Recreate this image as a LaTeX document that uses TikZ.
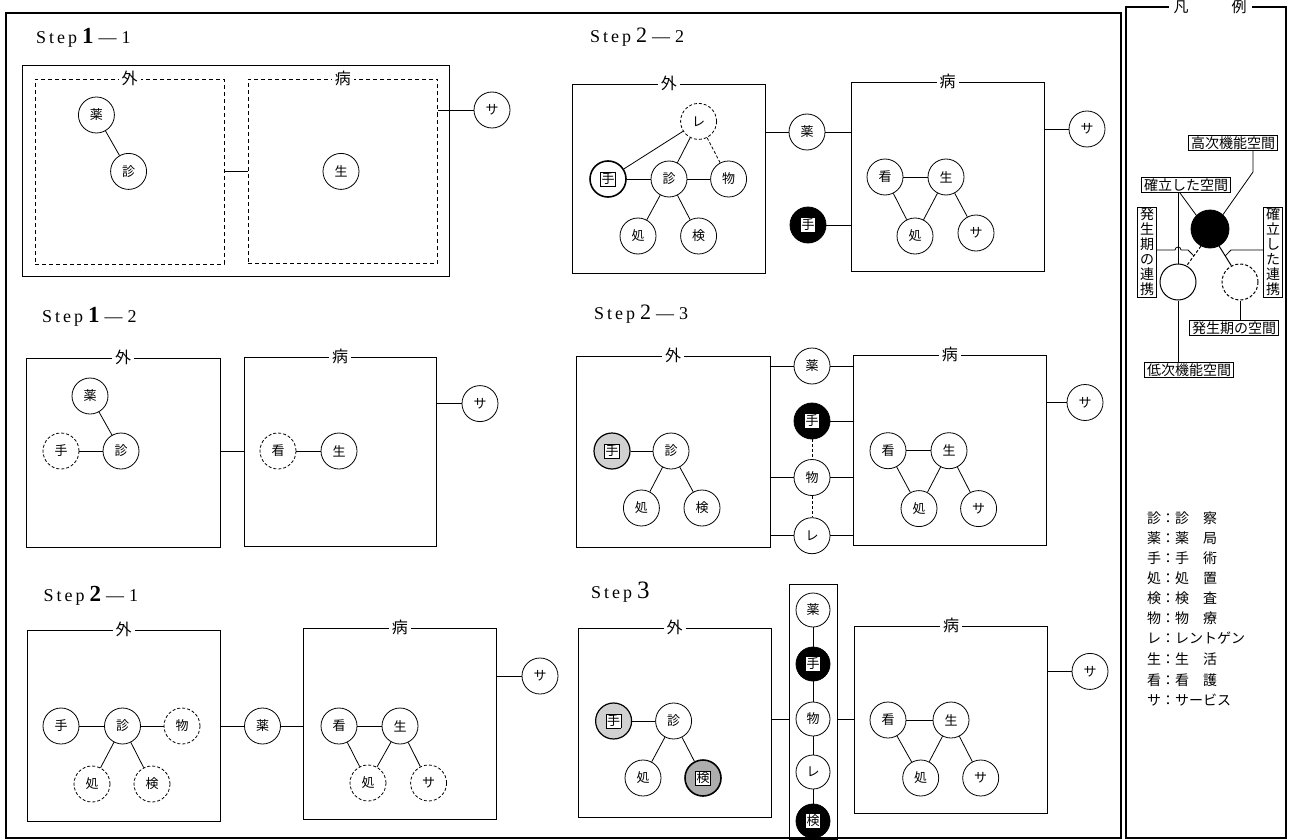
\documentclass[tikz,border=0pt]{standalone}
\usepackage{fontspec}
\setmainfont{Noto Sans CJK JP}
\newfontfamily\stepfont{Liberation Serif}
\usetikzlibrary{calc}
\newcommand\WhiteChar[1]{{\setlength{\fboxsep}{0.6pt}\colorbox{white}{#1}}}
\newcommand\FramedChar[1]{{\setlength{\fboxsep}{0.6pt}\setlength{\fboxrule}{0.6pt}\fcolorbox{black}{white}{#1}}}
\newcommand\StepWord{S\kern3pt t\kern3pt e\kern3pt p}
\newcommand\Zone[7]{%
  \node[#6, minimum width={(#4)-(#2)}, minimum height={(#5)-(#3)}] (#1) at ({((#2)+(#4))/2},{((#3)+(#5))/2}) {};
  \node[ttl] (#1t) at (#1.north) {#7};}
\begin{document}
\begin{tikzpicture}[x=1pt,y=-1pt,
 ln/.style={line width=0.8pt},
 dln/.style={line width=0.8pt,dash pattern=on 3pt off 2pt},
 cir/.style={circle,draw,line width=0.8pt,minimum size=36pt,inner sep=0pt,fill=white,font=\fontsize{13}{13}\selectfont},
 dcir/.style={cir,dash pattern=on 3pt off 2pt},
 bcir/.style={cir,fill=black},
 tcir/.style={cir,line width=1.6pt},
 scir/.style={cir,fill=black!18,line width=1.2pt},
 zone/.style={draw,line width=0.9pt,inner sep=0pt},
 dzone/.style={zone,dash pattern=on 4pt off 3pt},
 ttl/.style={fill=white,inner xsep=3pt,inner ysep=1pt,font=\fontsize{16}{16}\selectfont},
 steptitle/.style={anchor=west,inner sep=0pt,font=\stepfont\fontsize{18}{18}\selectfont},
 lbox/.style={draw,line width=0.7pt,inner xsep=2.5pt,inner ysep=1pt,fill=white,font=\fontsize{14}{14}\selectfont},
 key/.style={anchor=west,inner sep=0pt,font=\fontsize{14}{14}\selectfont}
]
\fill[white] (0,0) rectangle (1295,840);
\useasboundingbox (0,0) rectangle (1295,840);
% frames
\draw[line width=1.2pt] (6,13) rectangle (1121,838);
\draw[line width=1.2pt] (1126,7) rectangle (1286,838);
\node[fill=white,inner xsep=5pt,inner ysep=0pt,font=\fontsize{15}{15}\selectfont] (legt) at (1210,7) {凡\hspace{43pt}例};

% ---------------- Step 1-1
\node[steptitle] (t11) at (36,37.5) {\StepWord\kern5pt{\fontsize{23}{23}\selectfont\bfseries 1}\kern5pt—\kern5pt1};
\node[zone,minimum width=426.5,minimum height=211] (s11o) at (235.75,170.5) {};
\Zone{s11a}{35}{79}{224}{264}{dzone}{外}
\Zone{s11b}{248}{79}{437.5}{263}{dzone}{病}
\node[cir] (s11y) at (96.4,115) {薬};
\node[cir] (s11d) at (128.6,171.4) {診};
\node[cir] (s11g) at (341,171.4) {生};
\node[cir] (s11s) at (492,110) {サ};
\draw[ln] (s11y) -- (s11d);
\draw[ln] (s11a.east |- s11d) -- (s11b.west |- s11d);
\draw[ln] (s11b.east |- s11s) -- (s11s);

% ---------------- Step 1-2
\node[steptitle] (t12) at (42,317) {\StepWord\kern5pt{\fontsize{23}{23}\selectfont\bfseries 1}\kern5pt—\kern5pt2};
\Zone{s12a}{26}{358}{220}{547}{zone}{外}
\Zone{s12b}{244}{357}{436}{546}{zone}{病}
\node[cir] (s12y) at (90,396) {薬};
\node[cir] (s12d) at (121,451) {診};
\node[dcir] (s12h) at (61,451) {手};
\node[dcir] (s12k) at (278,451) {看};
\node[cir] (s12g) at (339,451) {生};
\node[cir] (s12s) at (480,403.6) {サ};
\draw[ln] (s12y) -- (s12d);
\draw[ln] (s12h) -- (s12d);
\draw[ln] (s12k) -- (s12g);
\draw[ln] (s12a.east |- s12d) -- (s12b.west |- s12d);
\draw[ln] (s12b.east |- s12s) -- (s12s);

% ---------------- Step 2-1
\node[steptitle] (t21) at (43.5,596) {\StepWord\kern5pt{\fontsize{23}{23}\selectfont\bfseries 2}\kern5pt—\kern5pt1};
\Zone{s21a}{27}{630}{220}{821}{zone}{外}
\Zone{s21b}{303.6}{628}{496}{819}{zone}{病}
\node[cir] (s21h) at (61,726) {手};
\node[cir] (s21d) at (122.5,726) {診};
\node[dcir] (s21m) at (182,726) {物};
\node[dcir] (s21c) at (92,784) {処};
\node[dcir] (s21e) at (152,784) {検};
\node[cir] (s21y) at (262.5,726) {薬};
\node[cir] (s21k) at (339,726) {看};
\node[cir] (s21g) at (400,726) {生};
\node[dcir] (s21c2) at (368,783) {処};
\node[dcir] (s21v) at (428.6,783) {サ};
\node[cir] (s21s) at (540,676) {サ};
\draw[ln] (s21h) -- (s21d);
\draw[ln] (s21d) -- (s21m);
\draw[ln] (s21d) -- (s21c);
\draw[ln] (s21d) -- (s21e);
\draw[ln] (s21a.east |- s21y) -- (s21y) -- (s21b.west |- s21y);
\draw[ln] (s21k) -- (s21g);
\draw[ln] (s21k) -- (s21c2);
\draw[ln] (s21g) -- (s21c2);
\draw[ln] (s21g) -- (s21v);
\draw[ln] (s21b.east |- s21s) -- (s21s);

% ---------------- Step 2-2
\node[steptitle] (t22) at (590,37.5) {\StepWord\kern5pt{\fontsize{22}{22}\selectfont 2}\kern5pt—\kern5pt2};
\Zone{s22a}{572.5}{84}{765}{273}{zone}{外}
\Zone{s22b}{851}{82}{1044}{271}{zone}{病}
\node[dcir] (s22r) at (698.6,121.4) {レ};
\node[tcir] (s22h) at (608,179) {\FramedChar{手}};
\node[cir] (s22d) at (669,179) {診};
\node[cir] (s22m) at (728.6,179) {物};
\node[cir] (s22c) at (638,236) {処};
\node[cir] (s22e) at (698.6,236) {検};
\node[cir] (s22y) at (807,132) {薬};
\node[bcir] (s22hb) at (808,225) {\WhiteChar{手}};
\node[cir] (s22k) at (885,177) {看};
\node[cir] (s22g) at (946,177) {生};
\node[cir] (s22c2) at (915,236) {処};
\node[cir] (s22v) at (976,233) {サ};
\node[cir] (s22s) at (1087,129) {サ};
\draw[ln] (s22h) -- (s22r);
\draw[ln] (s22d) -- (s22r);
\draw[dln] (s22m) -- (s22r);
\draw[ln] (s22h) -- (s22d);
\draw[ln] (s22d) -- (s22m);
\draw[ln] (s22d) -- (s22c);
\draw[ln] (s22d) -- (s22e);
\draw[ln] (s22a.east |- s22y) -- (s22y) -- (s22b.west |- s22y);
\draw[ln] (s22hb) -- (s22b.west |- s22hb);
\draw[ln] (s22k) -- (s22g);
\draw[ln] (s22k) -- (s22c2);
\draw[ln] (s22g) -- (s22c2);
\draw[ln] (s22g) -- (s22v);
\draw[ln] (s22b.east |- s22s) -- (s22s);

% ---------------- Step 2-3
\node[steptitle] (t23) at (594,314) {\StepWord\kern5pt{\fontsize{22}{22}\selectfont 2}\kern5pt—\kern5pt3};
\Zone{s23a}{576}{356}{770}{547}{zone}{外}
\Zone{s23b}{853.6}{355}{1046}{545}{zone}{病}
\node[scir] (s23h) at (612,451) {\FramedChar{手}};
\node[cir] (s23d) at (671,451) {診};
\node[cir] (s23c) at (641.4,508) {処};
\node[cir] (s23e) at (702,508) {検};
\node[cir] (s23y) at (812,366) {薬};
\node[bcir] (s23hb) at (812,421) {\WhiteChar{手}};
\node[cir] (s23m) at (812,477.5) {物};
\node[cir] (s23r) at (812,535.7) {レ};
\node[cir] (s23k) at (888,450.7) {看};
\node[cir] (s23g) at (949,450.7) {生};
\node[cir] (s23c2) at (919,508.6) {処};
\node[cir] (s23v) at (978.6,508.6) {サ};
\node[cir] (s23s) at (1085,402.5) {サ};
\draw[ln] (s23h) -- (s23d);
\draw[ln] (s23d) -- (s23c);
\draw[ln] (s23d) -- (s23e);
\draw[ln] (s23a.east |- s23y) -- (s23y) -- (s23b.west |- s23y);
\draw[ln] (s23hb) -- (s23b.west |- s23hb);
\draw[ln] (s23a.east |- s23m) -- (s23m) -- (s23b.west |- s23m);
\draw[ln] (s23a.east |- s23r) -- (s23r) -- (s23b.west |- s23r);
\draw[dln] (s23hb) -- (s23m);
\draw[dln] (s23m) -- (s23r);
\draw[ln] (s23k) -- (s23g);
\draw[ln] (s23k) -- (s23c2);
\draw[ln] (s23g) -- (s23c2);
\draw[ln] (s23g) -- (s23v);
\draw[ln] (s23b.east |- s23s) -- (s23s);

% ---------------- Step 3
\node[steptitle] (t3) at (591,592) {\StepWord\kern5pt{\fontsize{25}{25}\selectfont 3}};
\Zone{s3a}{578}{628}{771}{817}{zone}{外}
\Zone{s3b}{854.6}{626}{1047.5}{813.6}{zone}{病}
\node[zone,minimum width=48,minimum height=255] (s3col) at (813,711.5) {};
\node[scir] (s3h) at (613.6,721) {\FramedChar{手}};
\node[cir] (s3d) at (673.6,721) {診};
\node[cir] (s3c) at (643,778) {処};
\node[scir,fill=black!32,line width=1.6pt] (s3e) at (703,778) {\FramedChar{検}};
\node[cir,minimum size=34pt] (s3y) at (813,610) {薬};
\node[bcir,minimum size=34pt] (s3hb) at (813,664) {\WhiteChar{手}};
\node[cir,minimum size=34pt] (s3m) at (813,719) {物};
\node[cir,minimum size=34pt] (s3r) at (813,772) {レ};
\node[bcir,minimum size=34pt] (s3eb) at (813,821) {\WhiteChar{検}};
\node[cir] (s3k) at (888,720) {看};
\node[cir] (s3g) at (951,720) {生};
\node[cir] (s3c2) at (920.7,778) {処};
\node[cir] (s3v) at (980.7,778) {サ};
\node[cir] (s3s) at (1090,671.4) {サ};
\draw[ln] (s3h) -- (s3d);
\draw[ln] (s3d) -- (s3c);
\draw[ln] (s3d) -- (s3e);
\draw[ln] (s3y) -- (s3hb);
\draw[ln] (s3hb) -- (s3m);
\draw[ln] (s3m) -- (s3r);
\draw[ln] (s3r) -- (s3eb);
\draw[ln] (s3a.east |- s3m) -- (s3col.west |- s3m);
\draw[ln] (s3col.east |- s3m) -- (s3b.west |- s3m);
\draw[ln] (s3k) -- (s3g);
\draw[ln] (s3k) -- (s3c2);
\draw[ln] (s3g) -- (s3c2);
\draw[ln] (s3g) -- (s3v);
\draw[ln] (s3b.east |- s3s) -- (s3s);

% ---------------- Legend
\node[circle,fill=black,draw,line width=0.8pt,minimum size=38pt,inner sep=0pt] (lB) at (1210,229) {};
\node[circle,draw,line width=1pt,minimum size=36pt,inner sep=0pt] (lW) at (1178,282) {};
\node[circle,draw,line width=1pt,dash pattern=on 3pt off 2pt,minimum size=36pt,inner sep=0pt] (lD) at (1240,282) {};
\draw[dln,line width=1pt] (lB.-118) -- (lW.62);
\draw[ln,line width=1pt] (lB.-62) -- (lD.118);
\coordinate (lhm) at ($(lB.-118)!0.5!(lW.62)$);
\coordinate (lkm) at ($(lB.-62)!0.5!(lD.118)$);
\node[lbox] (lhi) at (1233,143) {高次機能空間};
\node[lbox] (lkk) at (1186,185) {確立した空間};
\node[lbox,align=center,font=\fontsize{14}{15}\selectfont] (lhr) at (1147,252) {発\\生\\期\\の\\連\\携};
\node[lbox,align=center,font=\fontsize{14}{15}\selectfont] (lkr) at (1273,252) {確\\立\\し\\た\\連\\携};
\node[lbox] (lhk) at (1234,328) {発生期の空間};
\node[lbox] (llo) at (1189,370) {低次機能空間};
\draw[ln] (lhi.south -| 1253,0) -- (1253,172) -- (lB.48);
\draw[ln] (1180,193) -- (lB.135);
\draw[ln] (lkk.south -| lW.north) -- (lW.north);
\draw[ln] (lhr.east |- 0,250) -- (1175,250) arc[start angle=180,end angle=360,radius=3] -- (1188,250) -- (lhm);
\draw[ln] (lkr.west |- 0,250) -- (1231,250) -- (lkm);
\draw[ln] (lD.south) -- (lhk.north -| lD.south);
\draw[ln] (lW.south) -- (llo.north -| lW.south);
% key
\node[key] (k1) at (1147,518) {診：診　察};
\node[key] (k2) at (1147,538) {薬：薬　局};
\node[key] (k3) at (1147,558) {手：手　術};
\node[key] (k4) at (1147,578) {処：処　置};
\node[key] (k5) at (1147,598) {検：検　査};
\node[key] (k6) at (1147,618) {物：物　療};
\node[key] (k7) at (1147,638) {レ：レントゲン};
\node[key] (k8) at (1147,659) {生：生　活};
\node[key] (k9) at (1147,680) {看：看　護};
\node[key] (k10) at (1147,700) {サ：サービス};
\end{tikzpicture}
\end{document}
